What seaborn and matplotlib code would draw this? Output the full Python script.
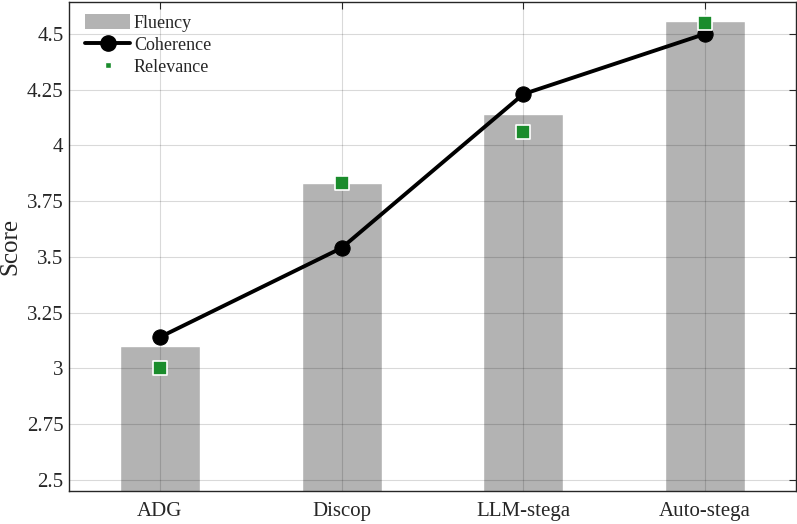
import matplotlib
matplotlib.use("Agg")
import matplotlib.pyplot as plt
import seaborn as sns
import numpy as np
import pandas as pd
from matplotlib.lines import Line2D
from matplotlib.patches import Patch

methods = ["ADG", "Discop", "LLM-stega", "Auto-stega"]
fluency = [3.10, 3.83, 4.14, 4.56]
coherence = [3.14, 3.54, 4.23, 4.50]
relevance = [3.00, 3.83, 4.06, 4.55]
yticks = [2.5, 2.75, 3, 3.25, 3.5, 3.75, 4, 4.25, 4.5]
ytick_labels = ["2.5", "2.75", "3", "3.25", "3.5", "3.75", "4", "4.25", "4.5"]

sns.set_theme(style="white")
plt.rcParams['font.family'] = ['Liberation Serif', 'DejaVu Serif']

df = pd.DataFrame({"Method": methods, "Fluency": fluency,
                   "Coherence": coherence, "Relevance": relevance})
df["pos"] = np.arange(len(methods))

fig = plt.figure(figsize=(7.97, 5.24), dpi=100)
ax = fig.add_axes([69/797, 33/524, (796-69)/797, (522-33)/524])

sns.barplot(data=df, x="Method", y="Fluency", color="#b3b3b3", saturation=1,
            width=0.44, ax=ax, zorder=1)
sns.lineplot(data=df, x="pos", y="Coherence", color="black", linewidth=2.8,
             marker="o", markersize=11, markeredgecolor="black", ax=ax,
             zorder=3, sort=False)
sns.scatterplot(data=df, x="pos", y="Relevance", marker="s", s=90,
                color="#1a8c2c", edgecolor="white", linewidth=1.2, ax=ax, zorder=4)

ax.set_xlim(-0.5, 3.5)
ax.set_ylim(2.45, 4.643)
ax.set_yticks(yticks)
ax.set_yticklabels(ytick_labels)
ax.set_xticks(np.arange(len(methods)))
ax.set_xticklabels(methods)
ax.set_xlabel("")
ax.set_ylabel("Score", fontsize=18, labelpad=4)

ax.set_axisbelow(False)
ax.grid(True, color="black", alpha=0.15, linewidth=0.8)
ax.tick_params(direction="in", length=5, width=0.8, top=True, right=True,
               labelsize=15, color="#262626", labelcolor="#262626")
ax.tick_params(axis="y", pad=4)
ax.tick_params(axis="x", pad=8)
for sp in ax.spines.values():
    sp.set_visible(True)
    sp.set_color("#262626")
    sp.set_linewidth(1.0)

handles = [
    Patch(facecolor="#b3b3b3", edgecolor="none"),
    Line2D([], [], color="black", linewidth=2.8, marker="o", markersize=11),
    Line2D([], [], linestyle="none", marker="s", markersize=4,
           color="#1a8c2c", markeredgecolor="white"),
]
leg = ax.legend(handles, ["Fluency", "Coherence", "Relevance"], loc="upper left",
                frameon=False, fontsize=13, handlelength=2.5, handleheight=0.9,
                labelspacing=0.25, handletextpad=0.2, borderaxespad=0,
                bbox_to_anchor=(0.0124, 0.99))

fig.savefig("out.png", dpi=100)
